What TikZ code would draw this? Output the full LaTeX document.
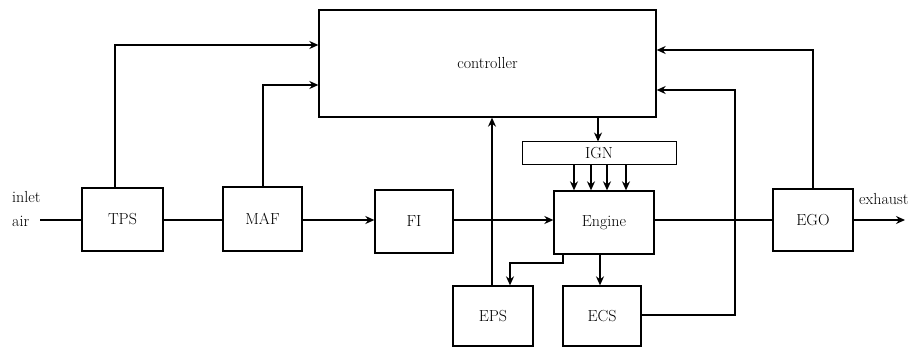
\documentclass[tikz,border=0pt]{standalone}
\usetikzlibrary{arrows.meta}
\begin{document}
\begin{tikzpicture}[x=1pt,y=-1pt,
  blk/.style={draw,line width=1.3pt,inner sep=0pt,font=\fontsize{16}{20}\selectfont},
  ln/.style={line width=1.3pt},
  arr/.style={line width=1.3pt,-{Stealth[length=9pt,width=8pt]}}]
\useasboundingbox (0,0) rectangle (913,350);
\node[blk,minimum width=337pt,minimum height=107pt] (ctrl) at (487.5,63.5) {controller};
\node[blk,minimum width=81pt,minimum height=63pt] (tps) at (122.5,219.5) {TPS};
\node[blk,minimum width=79pt,minimum height=64pt] (maf) at (262.5,219) {MAF};
\node[blk,minimum width=78pt,minimum height=63pt] (fi) at (414,221.5) {FI};
\node[blk,minimum width=100pt,minimum height=63pt] (eng) at (604,222.5) {Engine};
\node[blk,line width=1pt,minimum width=154pt,minimum height=23pt] (ign) at (599,153.5) {IGN};
\node[blk,minimum width=80pt,minimum height=60pt] (eps) at (493,316) {EPS};
\node[blk,minimum width=78pt,minimum height=60pt] (ecs) at (602,316) {ECS};
\node[blk,minimum width=80pt,minimum height=62pt] (ego) at (813,220) {EGO};
\node[font=\fontsize{16}{24}\selectfont,align=left,inner sep=0pt,anchor=west] (inlet) at (12,209) {inlet\\air};
\node[font=\fontsize{16}{20}\selectfont,inner sep=0pt,anchor=west] (exh) at (859,199) {exhaust};
\coordinate (inS) at (40,220);
\coordinate (exE) at (905,220);
% main line
\draw[ln] (inS) -- (tps.west |- 0,220);
\draw[ln] (tps.east |- 0,220) -- (maf.west |- 0,220);
\draw[arr] (maf.east |- 0,220) -- (fi.west |- 0,220);
\draw[arr] (fi.east |- 0,220) -- (eng.west |- 0,220);
\draw[ln] (eng.east |- 0,220) -- (ego.west |- 0,220);
\draw[arr] (ego.east |- 0,220) -- (exE);
% to controller
\draw[arr] (tps.north -| 115,0) |- (ctrl.west |- 0,45);
\draw[arr] (maf.north -| 263,0) |- (ctrl.west |- 0,85);
\draw[arr] (ego.north) |- (ctrl.east |- 0,50);
\draw[arr] (ecs.east |- 0,315) -| (735,90) -- (ctrl.east |- 0,90);
\draw[arr] (eps.north -| 492,0) -- (ctrl.south -| 492,0);
% controller to IGN
\draw[arr] (ctrl.south -| 598,0) -- (ign.north -| 598,0);
\foreach \x in {574,591,607,626}
  \draw[arr] (ign.south -| \x,0) -- (eng.north -| \x,0);
% engine to EPS, ECS
\draw[arr] (eng.south -| 563,0) -- (563,263) -| (eps.north -| 510,0);
\draw[arr] (eng.south -| 600,0) -- (ecs.north -| 600,0);
\end{tikzpicture}
\end{document}
